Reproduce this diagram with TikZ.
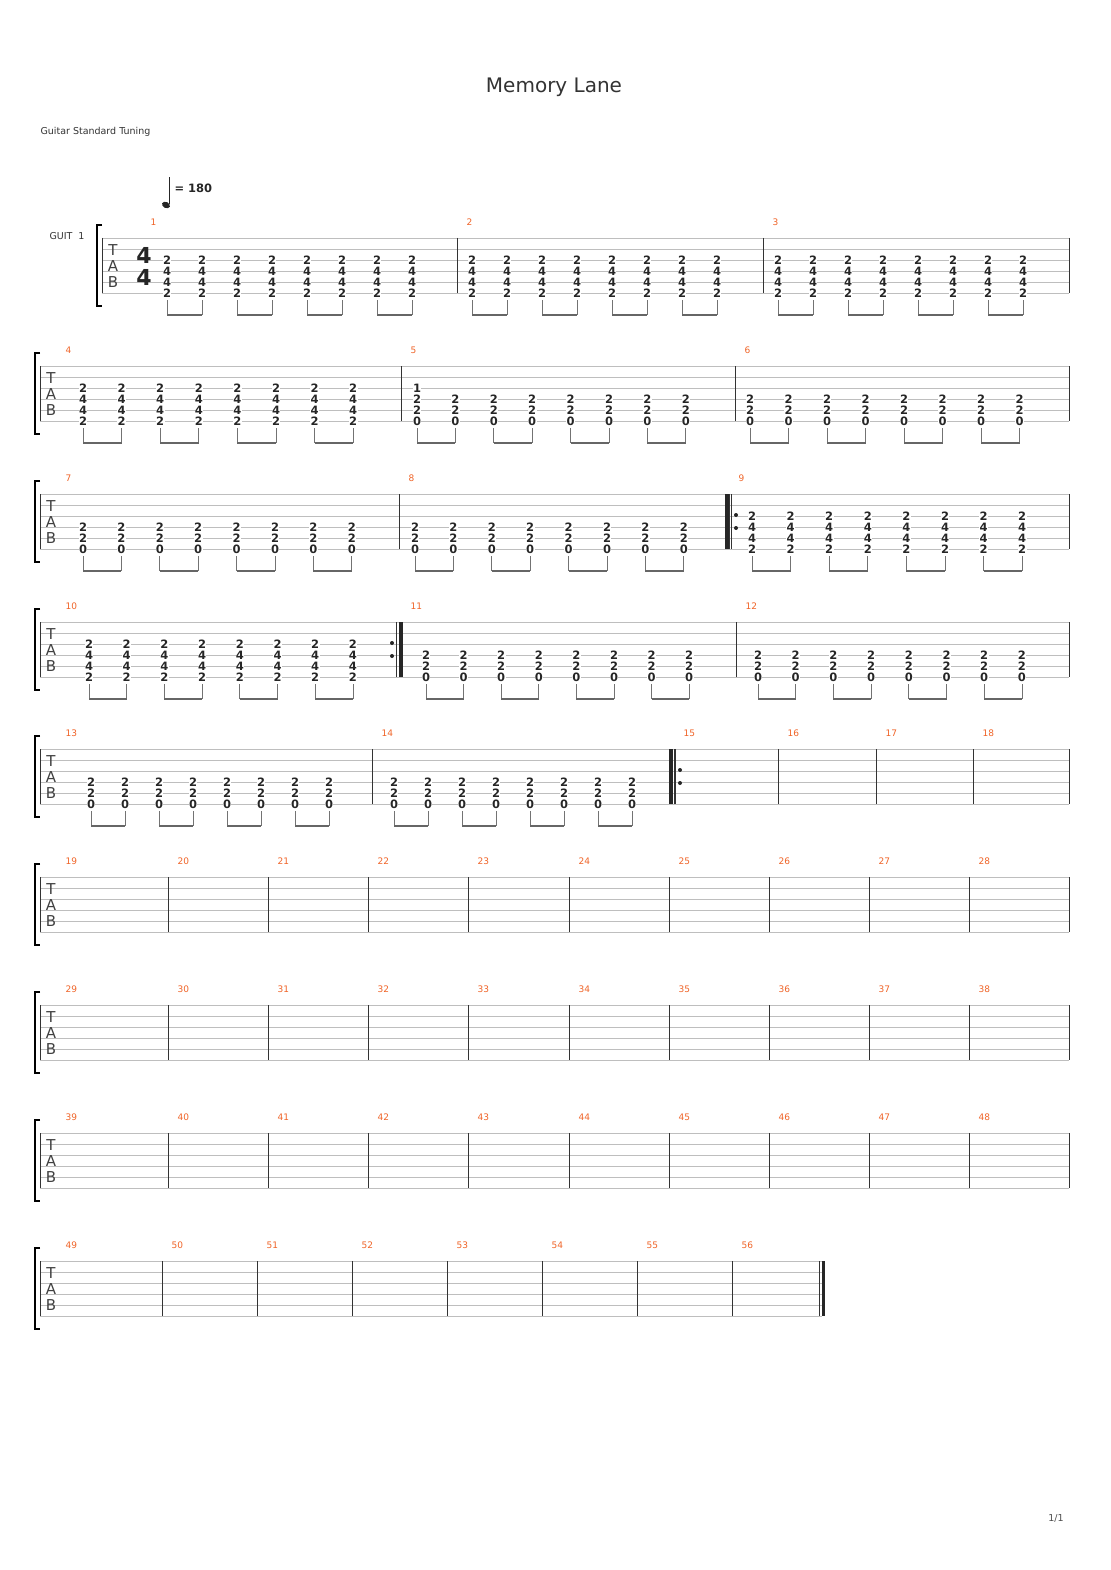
\documentclass[tikz,border=0pt]{standalone}
\usepackage{fontspec}
\setmainfont{DejaVu Sans}
\usepackage{tikz}
\usetikzlibrary{arrows.meta}

\definecolor{barnum}{RGB}{240,100,40}
\definecolor{lines}{RGB}{190,190,190}

% one staff of six lines
\newcommand\staff[2]{%
  \foreach \s in {0,...,5} \draw[staffline] (#2,#1+\s*11) -- (1069,#1+\s*11);
  \draw[bar] (1069,#1) -- (1069,#1+55);}
% chords
\newcommand\chA[2]{%
  \node[fret] at (#1,#2+22) {2}; \node[fret] at (#1,#2+33) {4};
  \node[fret] at (#1,#2+44) {4}; \node[fret] at (#1,#2+55) {2};}
\newcommand\chB[2]{%
  \node[fret] at (#1,#2+33) {2}; \node[fret] at (#1,#2+44) {2};
  \node[fret] at (#1,#2+55) {0};}
% one measure of eight beamed eighths: type, first x, spacing, staff y
\newcommand\meas[4]{%
  \foreach \i in {0,...,3}{%
    \pgfmathsetmacro\xa{#2+2*\i*#3}\pgfmathsetmacro\xb{\xa+#3}
    \csname ch#1\endcsname{\xa}{#4}\csname ch#1\endcsname{\xb}{#4}
    \draw[stem] (\xa,#4+62) -- (\xa,#4+77);
    \draw[stem] (\xb,#4+62) -- (\xb,#4+77);
    \draw[beam] (\xa,#4+77) -- (\xb,#4+77);}}
% bar line with its number
\newcommand\barn[3]{%
  \draw[bar] (#1,#2) -- (#1,#2+55);
  \node[num] at (#1+6,#2-16) {#3};}
% system start: bracket and TAB
\newcommand\sysstart[2]{%
  \draw[brk] (#1+5,#2-13) -- (#1,#2-13) -- (#1,#2+68) -- (#1+5,#2+68);
  \draw[bar, line width=0.5pt] (#1+5,#2) -- (#1+5,#2+55);
  \node[tabl] at (#1+16,#2+12) {T};
  \node[tabl] at (#1+16,#2+28) {A};
  \node[tabl] at (#1+16,#2+44) {B};}

\tikzset{
  staffline/.style={lines, line width=0.8pt},
  bar/.style={black!80, line width=0.9pt},
  thickbar/.style={black!85, line width=3.5pt},
  stem/.style={black!55, line width=0.8pt},
  beam/.style={black!60, line width=2.6pt},
  fret/.style={font=\fontsize{11.5}{11}\selectfont\bfseries, fill=white, inner sep=0.3pt, text=black!85},
  num/.style={font=\fontsize{9}{9}\selectfont, text=barnum, anchor=west},
  tabl/.style={font=\fontsize{15}{15}\selectfont, text=black!75},
  brk/.style={black, line width=2pt},
  rdot/.style={circle, fill=black!85, inner sep=0pt, minimum size=4pt}
}

\begin{document}
\begin{tikzpicture}[x=1pt, y=-1pt]
\fill[white] (0,0) rectangle (1110,1570);
\useasboundingbox (0,0) rectangle (1110,1570);

% header
\node[font=\fontsize{20}{20}\selectfont, text=black!80] (title) at (554,87) {Memory Lane};
\node[font=\fontsize{9.5}{9}\selectfont, text=black!80, anchor=west] (tuning) at (37,132) {Guitar Standard Tuning};
\node[font=\fontsize{9.5}{9}\selectfont, text=black!80, anchor=west] (guit) at (46,236) {GUIT\ \ 1};
\fill[black!85, rotate around={-25:(166,205)}] (166,205) ellipse (4.2pt and 3pt);
\draw[black!85, line width=1pt] (169.8,204) -- (169.8,177);
\node[font=\fontsize{11.5}{11}\selectfont\bfseries, text=black!85, anchor=west] (tempo) at (171,188) {= 180};
\node[font=\fontsize{9.5}{9}\selectfont, text=black!70] (page) at (1056,1518) {1/1};

% system 1
\staff{238}{102}
\draw[brk] (102,225) -- (97,225) -- (97,306) -- (102,306);
\draw[bar, line width=0.5pt] (102,238) -- (102,293);
\node[tabl] (t1) at (113,250) {T};
\node[tabl] (a1) at (113,266) {A};
\node[tabl] (b1) at (113,282) {B};
\node[font=\fontsize{22}{22}\selectfont\bfseries, text=black!85] (ts1) at (144,255) {4};
\node[font=\fontsize{22}{22}\selectfont\bfseries, text=black!85] (ts2) at (144,277) {4};
\node[num] at (147,222) {1};
\barn{457}{238}{2}
\barn{763}{238}{3}
\meas{A}{167}{35}{238}
\meas{A}{472}{35}{238}
\meas{A}{778}{35}{238}

% system 2
\staff{366}{40}
\sysstart{35}{366}
\node[num] at (62,350) {4};
\barn{401}{366}{5}
\barn{735}{366}{6}
\meas{A}{83}{38.6}{366}
\meas{B}{417}{38.4}{366}
\node[fret] at (417,388) {1};
\meas{B}{750}{38.5}{366}

% system 3
\staff{494}{40}
\sysstart{35}{494}
\node[num] at (62,478) {7};
\barn{399}{494}{8}
\barn{729}{494}{9}
\draw[thickbar] (727,494) -- (727,549);
\draw[bar] (731.5,494) -- (731.5,549);
\node[rdot] at (736,515) {}; \node[rdot] at (736,528) {};
\meas{B}{83}{38.4}{494}
\meas{B}{415}{38.4}{494}
\meas{A}{752}{38.6}{494}

% system 4
\staff{622}{40}
\sysstart{35}{622}
\node[num] at (62,606) {10};
\barn{401}{622}{11}
\draw[thickbar] (401,622) -- (401,677);
\draw[bar] (396.5,622) -- (396.5,677);
\node[rdot] at (392,643) {}; \node[rdot] at (392,656) {};
\barn{736}{622}{12}
\meas{A}{89}{37.7}{622}
\meas{B}{426}{37.6}{622}
\meas{B}{758}{37.7}{622}

% system 5
\staff{749}{40}
\sysstart{35}{749}
\node[num] at (62,733) {13};
\barn{372}{749}{14}
\barn{674}{749}{15}
\draw[thickbar] (671,749) -- (671,804);
\draw[bar] (675.5,749) -- (675.5,804);
\node[rdot] at (680,770) {}; \node[rdot] at (680,783) {};
\barn{778}{749}{16}
\barn{876}{749}{17}
\barn{973}{749}{18}
\meas{B}{91}{34}{749}
\meas{B}{394}{34}{749}

% systems 6 to 8: ten empty measures each
\foreach \y/\m in {877/19, 1005/29, 1133/39}{%
  \staff{\y}{40}
  \sysstart{35}{\y}
  \node[num] at (62,\y-16) {\m};
  \foreach \xb [count=\k] in {168,268,368,468,569,669,769,869,969}{%
    \pgfmathtruncatemacro\mm{\m+\k}
    \barn{\xb}{\y}{\mm}}
}

% system 9
\foreach \s in {0,...,5} \draw[staffline] (40,1261+\s*11) -- (822,1261+\s*11);
\sysstart{35}{1261}
\node[num] at (62,1245) {49};
\foreach \xb [count=\k] in {162,257,352,447,542,637,732}{%
  \pgfmathtruncatemacro\mm{49+\k}
  \barn{\xb}{1261}{\mm}}
\draw[bar] (819,1261) -- (819,1316);
\draw[thickbar] (823.5,1261) -- (823.5,1316);
\end{tikzpicture}
\end{document}
